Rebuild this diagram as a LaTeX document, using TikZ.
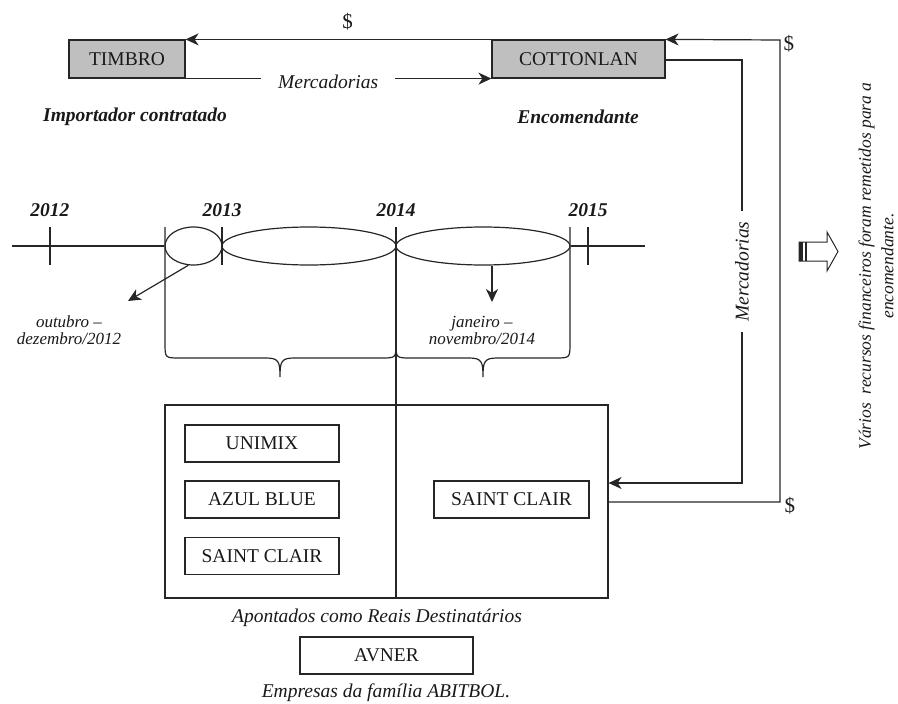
\documentclass[tikz,border=0pt]{standalone}
\usepackage{fontspec}
\setmainfont{Liberation Serif}
\usetikzlibrary{shapes.geometric,arrows.meta}
\tikzset{%
  firm/.style   = {shape=rectangle, draw, minimum height=37pt, inner sep=0pt,%
                   font=\fontsize{19.5}{22}\selectfont},%
  actor/.style  = {firm, minimum height=38pt, fill=black!25},%
  period/.style = {shape=ellipse, draw, minimum height=38pt, inner sep=0pt},%
  lbl/.style    = {font=\fontsize{19.5}{22}\selectfont\itshape, inner sep=0pt},%
  role/.style   = {font=\fontsize{19.5}{22}\selectfont\bfseries\itshape},%
  cash/.style   = {font=\fontsize{21}{23}\selectfont, inner sep=0pt},%
  small/.style  = {font=\fontsize{17}{20}\selectfont\itshape, align=center},%
  flow/.style   = {-{Stealth[length=13pt,width=12pt,inset=4pt]}}%
}
\begin{document}
\begin{tikzpicture}[x=1pt,y=-1pt,line width=1.2pt,draw=black!85,text=black!90]
  \useasboundingbox (0,0) rectangle (898,704);
  % actors
  \node[actor, minimum width=116pt] (timbro) at (127,59) {TIMBRO};
  \node[actor, minimum width=173pt] (cotton) at (578.5,59) {COTTONLAN};
  \node[role] (imp) at (135,117) {Importador contratado};
  \node[role] (enc) at (578,117) {Encomendante};
  \draw[flow] (cotton.north west) -- node[pos=0.47,cash,above=9pt] {\$} (timbro.north east);
  \draw[flow] (timbro.south east) -- node[pos=0.466,lbl,fill=white,inner xsep=17pt,inner ysep=4pt,yshift=-3pt] {Mercadorias} (cotton.south west);
  % timeline
  \coordinate (tl0) at (12,246);
  \coordinate (tl1) at (645,246);
  \node[period, minimum width=57pt] (e1) at (193.5,246) {};
  \node[period, minimum width=174pt] (e2) at (309,246) {};
  \node[period, minimum width=174pt] (e3) at (483,246) {};
  \draw (tl0) -- (e1.west);
  \draw (e3.east) -- (tl1);
  \foreach \x/\yr in {50/2012, 222/2013, 396/2014, 588/2015} {
    \draw (\x,227) -- (\x,265);
    \node[role] at (\x,210) {\yr};
  }
  \draw (396,227) -- (396,598);
  % braces
  \draw (165,227) -- (165,343) .. controls (165,358) .. (180,358) -- (266,358)
        .. controls (279,358) and (280,362) .. (280,377)
        .. controls (280,362) and (281,358) .. (294,358) -- (381,358)
        .. controls (396,358) .. (396,343);
  \draw (396,343) .. controls (396,358) .. (411,358) -- (469,358)
        .. controls (482,358) and (483,362) .. (483,377)
        .. controls (483,362) and (484,358) .. (497,358) -- (555,358)
        .. controls (570,358) .. (570,343) -- (570,227);
  \node[small] (oct) at (69,330) {outubro --\\[-3pt]dezembro/2012};
  \node[small] (jan) at (482,330) {janeiro --\\[-3pt]novembro/2014};
  \coordinate (a1) at (128,301);
  \coordinate (a2) at (492,302);
  \draw[flow] (e1.255) -- (a1);
  \draw[flow] (e3.south -| a2) -- (a2);
  % destinatarios
  \node[draw, minimum width=443pt, minimum height=193pt] (dest) at (386.5,501.5) {};
  \node[firm, minimum width=154pt] (unimix) at (262,443.5) {UNIMIX};
  \node[firm, minimum width=154pt] (azul) at (262,499.5) {AZUL BLUE};
  \node[firm, minimum width=154pt] (saint1) at (262,556) {SAINT CLAIR};
  \node[firm, minimum width=155pt] (saint2) at (511.5,499.5) {SAINT CLAIR};
  \node[lbl] (apont) at (377,618) {Apontados como Reais Destinatários};
  \node[firm, minimum width=173pt] (avner) at (386.5,655.5) {AVNER};
  \node[lbl] (abit) at (386,693) {Empresas da família ABITBOL.};
  % fluxos laterais
  \coordinate (m1) at (742,60);
  \coordinate (m2) at (742,483);
  \coordinate (d1) at (780,40);
  \coordinate (d2) at (780,502);
  \draw[flow] (cotton.east |- m1) -- (m1) -- node[pos=0.5,lbl,rotate=90,fill=white,inner xsep=10pt,inner ysep=3pt] {Mercadorias} (m2) -- (dest.east |- m2);
  \draw[flow] (dest.east |- d2) -- (d2) -- (d1) -- (cotton.north east);
  \node[cash, anchor=west] at ([xshift=3pt,yshift=-4pt]d1) {\$};
  \node[cash, anchor=west] at ([xshift=4pt,yshift=-4pt]d2) {\$};
  % nota
  \draw[line width=1pt] (799,242) -- (827,242) -- (827,232) -- (838,251.5) -- (827,271) -- (827,261) -- (799,261) -- cycle;
  \fill[black!85] (799,242) rectangle (803,261);
  \fill[black!85] (804.5,242) rectangle (807,261);
  \node[small, rotate=90, inner sep=1pt, font=\fontsize{17.5}{22.5}\selectfont\itshape] (nota) at (876,266)
    {Vários\ \ recursos financeiros foram remetidos para a\\encomendante.};
\end{tikzpicture}
\end{document}
